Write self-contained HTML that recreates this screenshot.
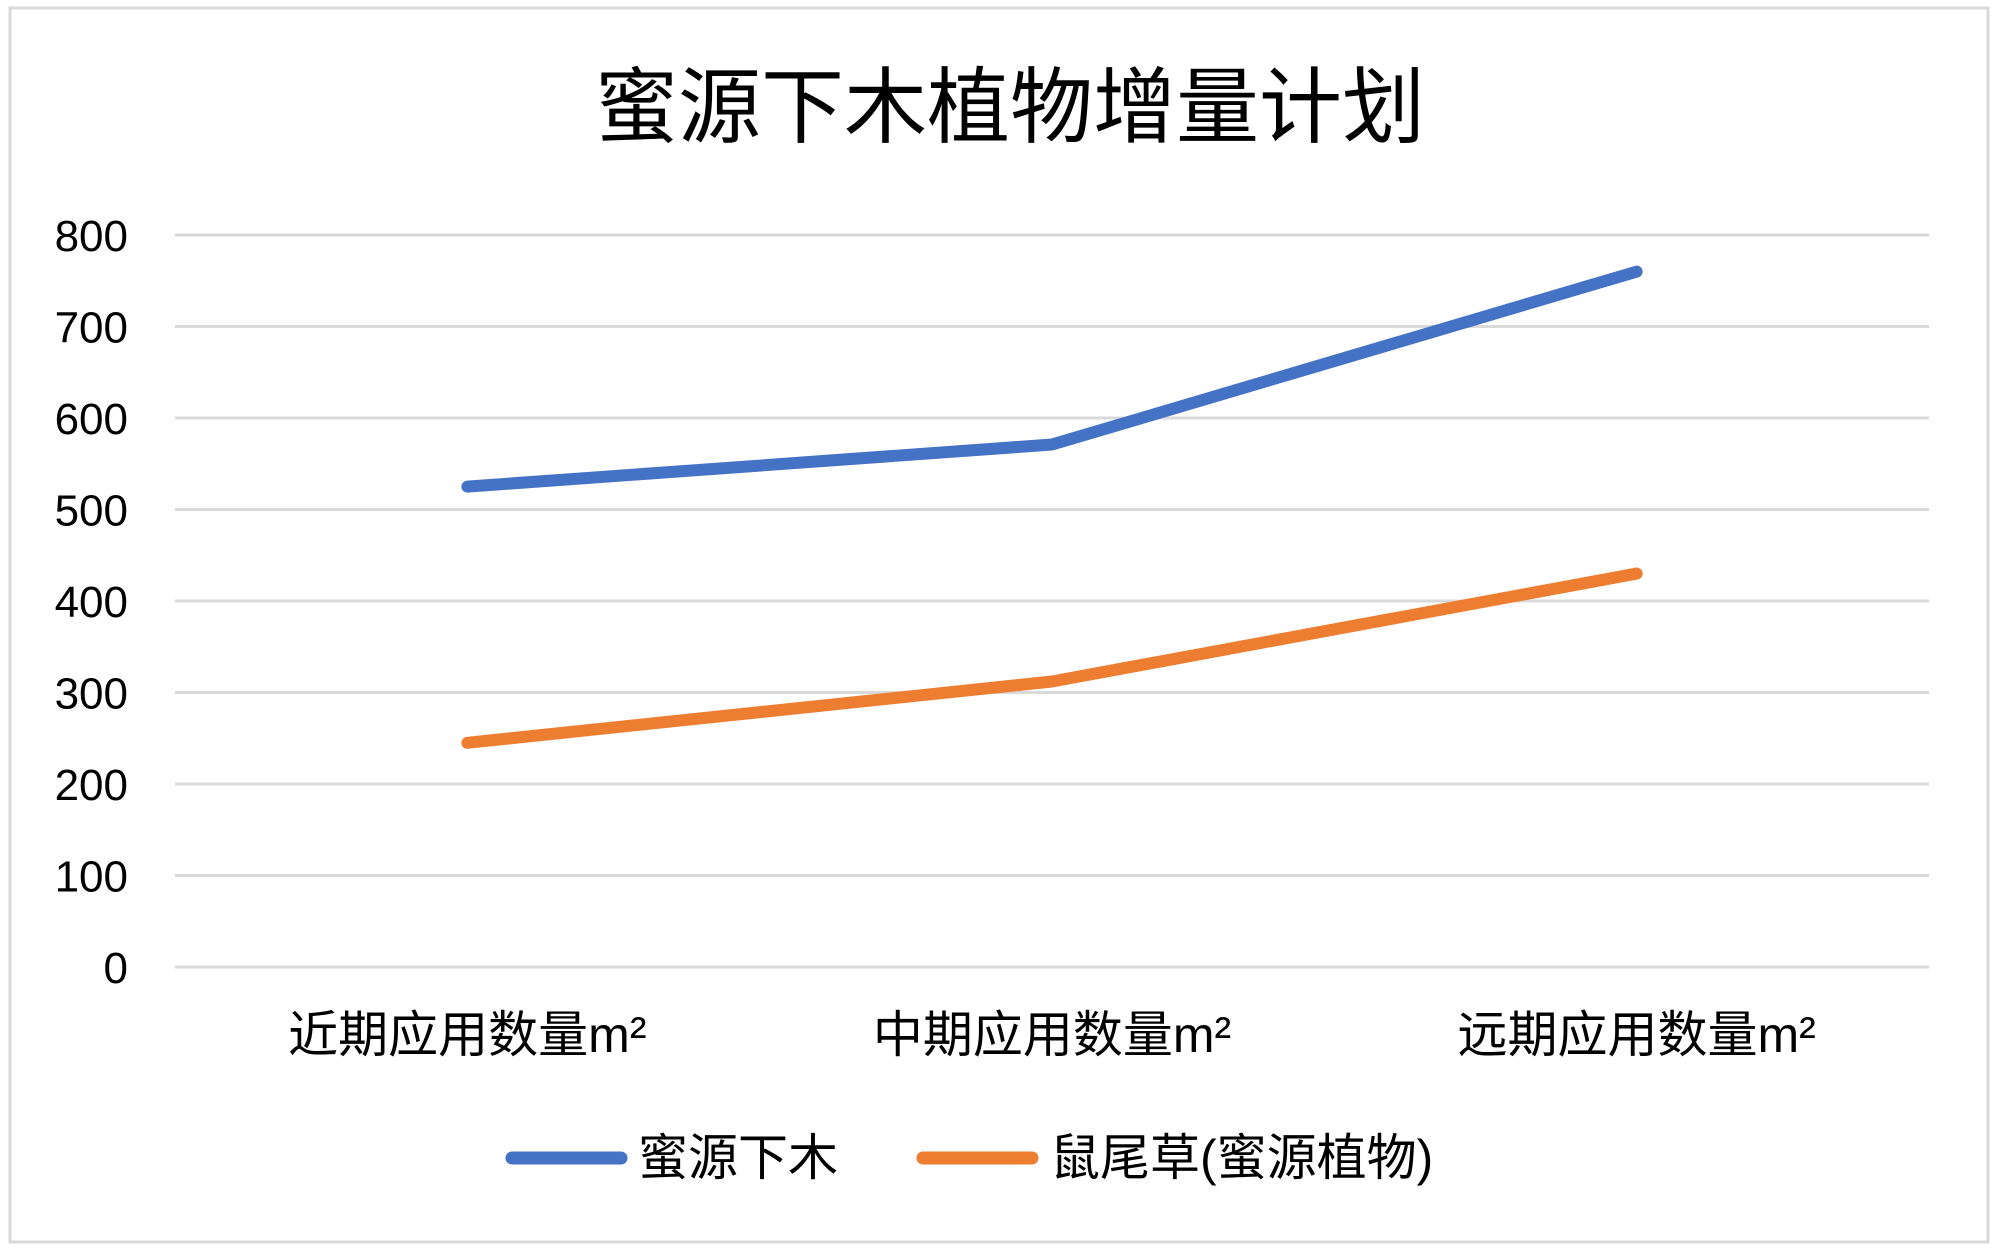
<!DOCTYPE html>
<html><head><meta charset="utf-8"><style>
html,body{margin:0;padding:0;background:#fff;}
svg{display:block;font-family:"Liberation Sans","Noto Sans CJK SC",sans-serif;}
</style></head><body>
<svg id="chart" width="2000" height="1250" viewBox="0 0 2000 1250">
<rect x="10" y="8" width="1978" height="1234" fill="#fff" stroke="#d9d9d9" stroke-width="3"/>
<text x="1010" y="136" text-anchor="middle" font-size="83" fill="#000">蜜源下木植物增量计划</text>
<g id="grid"></g><g id="ylabels"></g><g id="xlabels"></g><g id="series"></g>
<g>
<line x1="512" y1="1158" x2="621" y2="1158" stroke="#4472c4" stroke-width="13" stroke-linecap="round"/>
<text x="638" y="1175" font-size="50">蜜源下木</text>
<line x1="923" y1="1158" x2="1032" y2="1158" stroke="#ed7d31" stroke-width="13" stroke-linecap="round"/>
<text x="1050" y="1175" font-size="50">鼠尾草(蜜源植物)</text>
</g>
</svg>
<script>
const categories = ["近期应用数量m²","中期应用数量m²","远期应用数量m²"];
const seriesA = [525, 571, 760];
const seriesB = [245, 312, 430];
const yTicks = [0,100,200,300,400,500,600,700,800];
const NS="http://www.w3.org/2000/svg";
const L=175,R=1929,Y0=967,Y800=235;
const y=v=>Y0-(v/800)*(Y0-Y800);
const x=i=>L+(R-L)*(i+0.5)/categories.length;
function mk(t,a,p){const e=document.createElementNS(NS,t);for(const k in a)e.setAttribute(k,a[k]);p.appendChild(e);return e;}
const g=document.getElementById('grid'),yl=document.getElementById('ylabels'),xl=document.getElementById('xlabels'),s=document.getElementById('series');
yTicks.forEach(v=>{
 const ln=mk('line',{x1:L,x2:R,y1:y(v),y2:y(v),stroke:'#d9d9d9','stroke-width':3},g);
 
 
 const t=mk('text',{x:128,y:y(v)+16,'text-anchor':'end','font-size':44},yl);t.textContent=v;
 
 
});
categories.forEach((c,i)=>{
 const t=mk('text',{x:x(i),y:1052,'text-anchor':'middle','font-size':50},xl);t.textContent=c;
 
 
});
[[seriesA,'#4472c4','series-mifang-xiamu'],[seriesB,'#ed7d31','series-shuweicao']].forEach(([d,col,n])=>{
 const p=mk('polyline',{points:d.map((v,i)=>x(i)+','+y(v)).join(' '),fill:'none',stroke:col,'stroke-width':12,'stroke-linecap':'round','stroke-linejoin':'round'},s);
 
 
});
</script>
</body></html>
